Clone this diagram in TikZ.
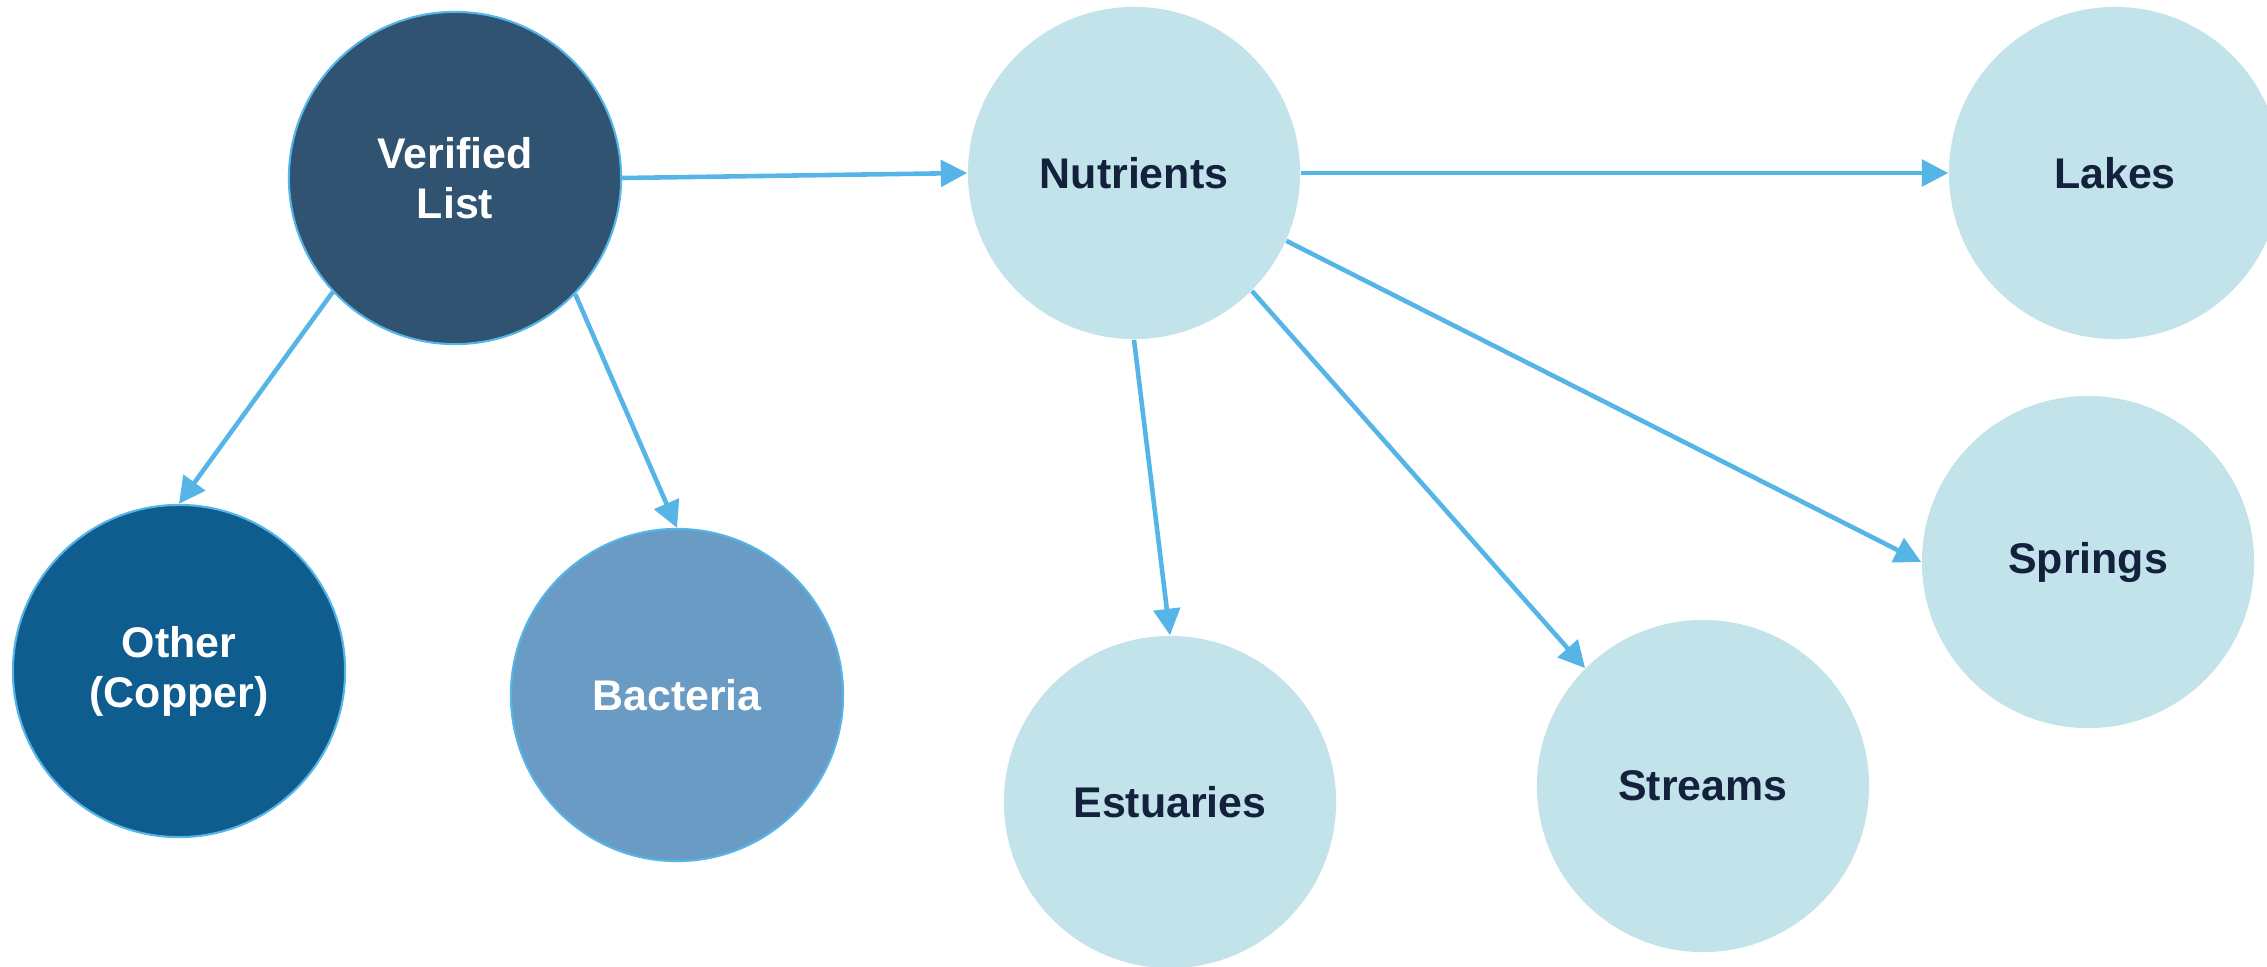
\documentclass[tikz,border=0pt]{standalone}
\usepackage{fontspec}
\setmainfont{Liberation Sans}
\usetikzlibrary{arrows.meta}
\usepackage{xcolor}

\definecolor{azulosc}{HTML}{2F5371}
\definecolor{azulmed}{HTML}{0F5C8E}
\definecolor{azulcla}{HTML}{6A9BC4}
\definecolor{celeste}{HTML}{C2E3EA}
\definecolor{tinta}{HTML}{14213D}
\definecolor{flecha}{HTML}{55B5E6}

\begin{document}
\begin{tikzpicture}[x=0.01cm, y=-0.01cm,
    circulo/.style={circle, minimum size=3.32cm, inner sep=0pt, align=center,
        font=\bfseries\fontsize{12.2}{14.2}\selectfont},
    oscuro/.style={circulo, draw=flecha, line width=0.6pt, text=white},
    claro/.style={circulo, fill=celeste, text=tinta},
    flechita/.style={-{Triangle[length=7.5pt,width=7.5pt]}, draw=flecha, line width=1.3pt}]

    % Marco de la figura
    \useasboundingbox (0,0) rectangle (2267,966);

    % Lista verificada y sus ramas
    \node[oscuro, fill=azulosc] (verif) at (455,178) {Verified\\List};
    \node[oscuro, fill=azulmed] (otro) at (179,671) {Other\\(Copper)};
    \node[oscuro, fill=azulcla] (bact) at (677,695) {Bacteria};

    % Nutrientes y cuerpos de agua
    \node[claro] (nutr) at (1134,173) {Nutrients};
    \node[claro] (lagos) at (2115,173) {Lakes};
    \node[claro] (manant) at (2088,562) {Springs};
    \node[claro] (arroyos) at (1703,786) {Streams};
    \node[claro] (estuar) at (1170,802) {Estuaries};

    % Flechas
    \draw[flechita] (verif.east) -- (nutr.west);
    \draw[flechita] (verif.223) -- (otro.north);
    \draw[flechita] (verif.316) -- (bact.north);
    \draw[flechita] (nutr.east) -- (lagos.west);
    \draw[flechita] (nutr.336) -- (manant.west);
    \draw[flechita] (nutr.315) -- (arroyos.135);
    \draw[flechita] (nutr.south) -- (estuar.north);

\end{tikzpicture}
\end{document}
